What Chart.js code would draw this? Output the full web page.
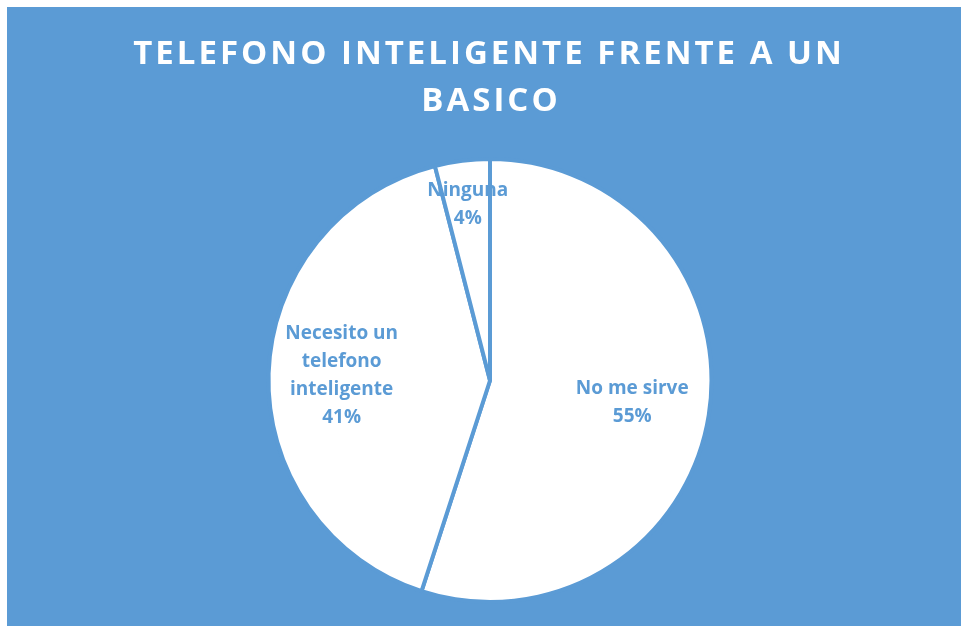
<!DOCTYPE html>
<html>
<head>
<meta charset="utf-8">
<script src="https://cdn.jsdelivr.net/npm/chart.js@4"></script>
<style>
  html, body { margin: 0; padding: 0; background: #fff; }
  #box { position: absolute; left: 7px; top: 7px; width: 954px; height: 619px; background: #5B9BD5; }
</style>
</head>
<body>
<div id="box"><canvas id="pieChart" width="954" height="619"></canvas></div>
<script>
// Chart data
const titleLines = ['TELEFONO INTELIGENTE FRENTE A UN', 'BASICO'];
const categories = [['No me sirve'], ['Necesito un', 'telefono', 'inteligente'], ['Ninguna']];
const shares = [55, 41, 4];
const shareLabels = ['55%', '41%', '4%'];

const blue = '#5B9BD5';

// title drawn with letter spacing
const titlePlugin = {
	id: 'spacedTitle',
	afterDraw(chart) {
		const ctx = chart.ctx;
		ctx.save();
		ctx.fillStyle = '#fff';
		ctx.font = 'bold 33px "Open Sans"';
		ctx.letterSpacing = '3px';
		ctx.textAlign = 'center';
		ctx.textBaseline = 'middle';
		ctx.fillText(titleLines[0], 482, 48);
		ctx.fillText(titleLines[1], 484, 95);
		ctx.restore();
	}
};

// labels inside slices
const labelPlugin = {
	id: 'sliceLabels',
	afterDatasetsDraw(chart) {
		const ctx = chart.ctx;
		const meta = chart.getDatasetMeta(0);
		const radiusFactor = [0.65, 0.67, 0.8];
		ctx.save();
		ctx.fillStyle = blue;
		ctx.font = 'bold 19px "Open Sans"';
		ctx.textAlign = 'center';
		ctx.textBaseline = 'middle';
		meta.data.forEach(function (arc, i) {
			const mid = (arc.startAngle + arc.endAngle) / 2;
			const r = arc.outerRadius * radiusFactor[i];
			const x = arc.x + Math.cos(mid) * r;
			const y = arc.y + Math.sin(mid) * r;
			const lines = categories[i].concat([shareLabels[i]]);
			const lh = 28;
			const top = y - (lines.length - 1) * lh / 2;
			lines.forEach(function (t, j) {
				ctx.fillText(t, x, top + j * lh);
			});
		});
		ctx.restore();
	}
};

const ctx = document.getElementById('pieChart').getContext('2d');
const pieChart = new Chart(ctx, {
	type: 'pie',
	data: {
		labels: categories.map(c => c.join(' ')),
		datasets: [
			{
				data: shares,
				backgroundColor: '#ffffff',
				borderColor: blue,
				borderWidth: 4,
			},
		],
	},
	options: {
		responsive: false,
		animation: false,
		layout: { padding: { top: 150, bottom: 22, left: 12, right: 0 } },
		plugins: {
			legend: { display: false },
			tooltip: { enabled: false },
			title: { display: false },
		},
	},
	plugins: [titlePlugin, labelPlugin],
});
</script>
</body>
</html>
